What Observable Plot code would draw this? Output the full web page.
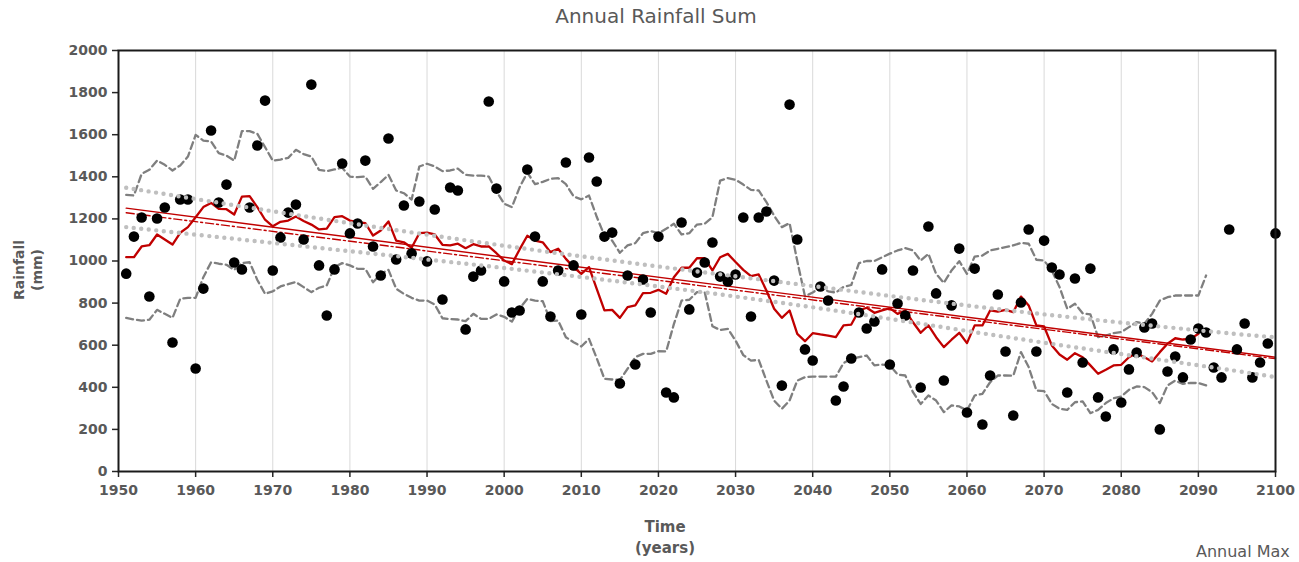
<!DOCTYPE html>
<html>
<head>
<meta charset="utf-8">
<script src="https://cdn.jsdelivr.net/npm/d3@7"></script>
<script src="https://cdn.jsdelivr.net/npm/@observablehq/plot@0.6"></script>
<style>
  html, body { margin: 0; padding: 0; background: #fff; overflow: hidden; }
  #wrap { position: relative; width: 1299px; height: 562px; overflow: hidden; font-family: "DejaVu Sans", Verdana, sans-serif; color: #595959; }
  #chart { position: absolute; left: 0; top: 0; }
  .lbl { position: absolute; white-space: nowrap; }
  #title { left: 0; width: 1312px; top: 4px; text-align: center; font-size: 20px; }
  #ylab { left: -22px; top: 252px; width: 100px; text-align: center; transform: rotate(-90deg); font-size: 14px; font-weight: bold; line-height: 18px; }
  #xlab { left: 565px; width: 200px; top: 517px; text-align: center; font-size: 15px; font-weight: bold; line-height: 21px; }
  #other { left: 1196px; top: 542px; font-size: 16px; }
</style>
</head>
<body>
<div id="wrap">
  <div id="chart"></div>
  <div class="lbl" id="title">Annual Rainfall Sum</div>
  <div class="lbl" id="ylab">Rainfall<br>(mm)</div>
  <div class="lbl" id="xlab">Time<br>(years)</div>
  <div class="lbl" id="other">Annual Max</div>
</div>
<script>
// ---------- data ----------
const firstYear = 1951;
const rainfall = [
  940, 1116, 1207, 831, 1202, 1254, 613, 1292, 1292, 489,
  869, 1620, 1278, 1363, 993, 960, 1254, 1549, 1762, 955,
  1112, 1230, 1268, 1102, 1838, 979, 741, 960, 1463, 1131,
  1178, 1477, 1069, 931, 1582, 1007, 1264, 1036, 1283, 998,
  1245, 817, 1349, 1335, 675, 926, 955, 1758, 1344, 903,
  755, 765, 1435, 1116, 903, 736, 955, 1468, 979, 746,
  1492, 1378, 1116, 1135, 418, 931, 508, 912, 755, 1116,
  375, 352, 1183, 770, 945, 993, 1088, 926, 903, 936,
  1207, 736, 1207, 1235, 907, 408, 1743, 1102, 580, 527,
  879, 812, 337, 404, 537, 755, 679, 713, 960, 508,
  798, 741, 955, 399, 1164, 846, 432, 789, 1059, 280,
  964, 223, 456, 841, 570, 266, 803, 1150, 570, 1097,
  969, 936, 375, 917, 518, 964, 352, 261, 580, 328,
  485, 565, 684, 703, 200, 475, 546, 447, 627, 679,
  660, 494, 447, 1150, 580, 703, 447, 518, 608, 1131
];
// moving average (red), 1951-2090
const movingAvg = [
  1018, 1018, 1069, 1075, 1126, 1102, 1078, 1134, 1161, 1208,
  1256, 1276, 1248, 1246, 1221, 1306, 1308, 1256, 1196, 1165,
  1186, 1192, 1211, 1190, 1173, 1150, 1154, 1208, 1213, 1192,
  1185, 1180, 1121, 1145, 1188, 1097, 1089, 1063, 1132, 1135,
  1126, 1077, 1074, 1082, 1061, 1080, 1069, 1069, 1037, 1002,
  985, 1055, 1120, 1097, 1089, 1042, 1058, 1010, 971, 939,
  971, 868, 765, 768, 730, 781, 789, 847, 849, 863,
  844, 923, 968, 968, 1013, 1013, 955, 1018, 1034, 995,
  958, 928, 936, 860, 773, 730, 765, 654, 619, 657,
  651, 646, 638, 694, 698, 765, 778, 754, 765, 776,
  749, 765, 709, 659, 694, 638, 591, 626, 659, 610,
  694, 694, 765, 760, 768, 757, 831, 789, 694, 689,
  599, 556, 531, 562, 543, 504, 464, 483, 504, 507,
  543, 562, 543, 523, 567, 607, 633, 627, 630, 654
];
// upper dashed band, 1951-2091
const upperBand = [
  1314, 1311, 1414, 1433, 1477, 1457, 1430, 1454, 1496, 1599,
  1572, 1568, 1512, 1501, 1477, 1617, 1617, 1604, 1541, 1477,
  1482, 1490, 1528, 1508, 1496, 1433, 1427, 1435, 1443, 1401,
  1398, 1401, 1343, 1375, 1409, 1335, 1322, 1292, 1449, 1462,
  1449, 1427, 1430, 1439, 1409, 1406, 1406, 1401, 1330, 1272,
  1256, 1350, 1420, 1365, 1376, 1390, 1394, 1365, 1307, 1293,
  1311, 1210, 1121, 1097, 1039, 1074, 1085, 1132, 1142, 1132,
  1153, 1177, 1126, 1132, 1173, 1177, 1208, 1382, 1394, 1386,
  1363, 1338, 1335, 1280, 1215, 1161, 1180, 1000, 832, 850,
  877, 856, 850, 877, 886, 990, 1000, 1000, 1018, 1035,
  1050, 1061, 1050, 1002, 1034, 939, 896, 955, 999, 939,
  1021, 1026, 1050, 1058, 1066, 1074, 1086, 1082, 1006, 1002,
  955, 876, 773, 797, 752, 746, 638, 646, 657, 662,
  686, 710, 702, 749, 812, 828, 836, 836, 836, 836,
  931
];
// lower dashed band, 1951-2091
const lowerBand = [
  730, 722, 717, 721, 768, 749, 730, 820, 825, 825,
  923, 994, 987, 982, 958, 990, 994, 910, 844, 856,
  879, 890, 900, 876, 852, 873, 884, 971, 990, 979,
  963, 963, 899, 939, 958, 868, 844, 825, 812, 812,
  793, 728, 724, 722, 714, 749, 725, 725, 746, 735,
  712, 775, 820, 812, 809, 715, 717, 638, 614, 594,
  630, 538, 440, 437, 435, 488, 543, 559, 559, 572,
  570, 700, 812, 816, 852, 852, 690, 672, 678, 622,
  553, 527, 530, 432, 337, 298, 337, 432, 448, 451,
  451, 451, 451, 515, 535, 543, 551, 504, 508, 504,
  461, 456, 377, 321, 361, 337, 282, 314, 309, 290,
  361, 369, 424, 456, 456, 455, 567, 496, 385, 382,
  321, 298, 293, 329, 333, 277, 293, 325, 348, 356,
  388, 404, 401, 377, 325, 409, 432, 416, 421, 420,
  409
];
// linear trends (start/end)
const trendYears = [1951, 2100];
const trendSolid = [1251, 543];
const trendDashDot = [1229, 536];
// confidence band of the trend (dotted)
const confYears = [1951, 1973, 1997, 2020, 2043, 2066, 2091, 2100];
const confUpper = [1348, 1219, 1088, 974, 867, 763, 667, 638];
const confLower = [1161, 1074, 979, 879, 764, 634, 499, 448];
// axis ticks
const xTicks = [1950, 1960, 1970, 1980, 1990, 2000, 2010, 2020, 2030, 2040, 2050, 2060, 2070, 2080, 2090, 2100];
const yTicks = [0, 200, 400, 600, 800, 1000, 1200, 1400, 1600, 1800, 2000];

// ---------- build rows ----------
const toRows = arr => arr.map((v, i) => ({year: firstYear + i, value: v}));
const pts = toRows(rainfall);
const ma = toRows(movingAvg);
const up = toRows(upperBand);
const lo = toRows(lowerBand);
const pairRows = (xs, ys) => xs.map((x, i) => ({year: x, value: ys[i]}));
const tSolid = pairRows(trendYears, trendSolid);
const tDash = pairRows(trendYears, trendDashDot);
const cUp = pairRows(confYears, confUpper);
const cLo = pairRows(confYears, confLower);

const font = "'DejaVu Sans', Verdana, sans-serif";
const chart = Plot.plot({
  width: 1299,
  height: 562,
  marginLeft: 118,
  marginRight: 24,
  marginTop: 50,
  marginBottom: 91,
  x: {domain: [1950, 2100]},
  y: {domain: [0, 2000]},
  style: {fontFamily: font, background: "transparent", overflow: "visible"},
  marks: [
    Plot.ruleX(xTicks.slice(1, -1), {stroke: "#d9d9d9", strokeWidth: 1}),
    Plot.axisX({ticks: xTicks, tickFormat: d => String(d), tickSize: 6, tickPadding: 8,
      fontSize: 14, fontWeight: "bold", fill: "#595959", stroke: "#262626", strokeWidth: 1.5, label: null}),
    Plot.axisY({ticks: yTicks, tickFormat: d => String(d), tickSize: 6, tickPadding: 5,
      fontSize: 14, fontWeight: "bold", fill: "#595959", stroke: "#262626", strokeWidth: 1.5, label: null}),
    Plot.line(up, {x: "year", y: "value", stroke: "#7f7f7f", strokeWidth: 2.3, strokeDasharray: "7 4"}),
    Plot.line(lo, {x: "year", y: "value", stroke: "#7f7f7f", strokeWidth: 2.3, strokeDasharray: "7 4"}),
    Plot.line(ma, {x: "year", y: "value", stroke: "#c00000", strokeWidth: 2.3}),
    Plot.line(tSolid, {x: "year", y: "value", stroke: "#c00000", strokeWidth: 1.4}),
    Plot.line(tDash, {x: "year", y: "value", stroke: "#c00000", strokeWidth: 1.4, strokeDasharray: "8 3 2 3"}),
    Plot.dot(pts, {x: "year", y: "value", r: 5.3, fill: "#000", stroke: "none"}),
    Plot.line(cUp, {x: "year", y: "value", curve: "natural", stroke: "#bfbfbf", strokeWidth: 4.4, strokeDasharray: "0 7.6", strokeLinecap: "round"}),
    Plot.line(cLo, {x: "year", y: "value", curve: "natural", stroke: "#bfbfbf", strokeWidth: 4.4, strokeDasharray: "0 7.6", strokeLinecap: "round"}),
    Plot.frame({stroke: "#1a1a1a", strokeWidth: 2})
  ]
});
document.getElementById("chart").appendChild(chart);
</script>
</body>
</html>
